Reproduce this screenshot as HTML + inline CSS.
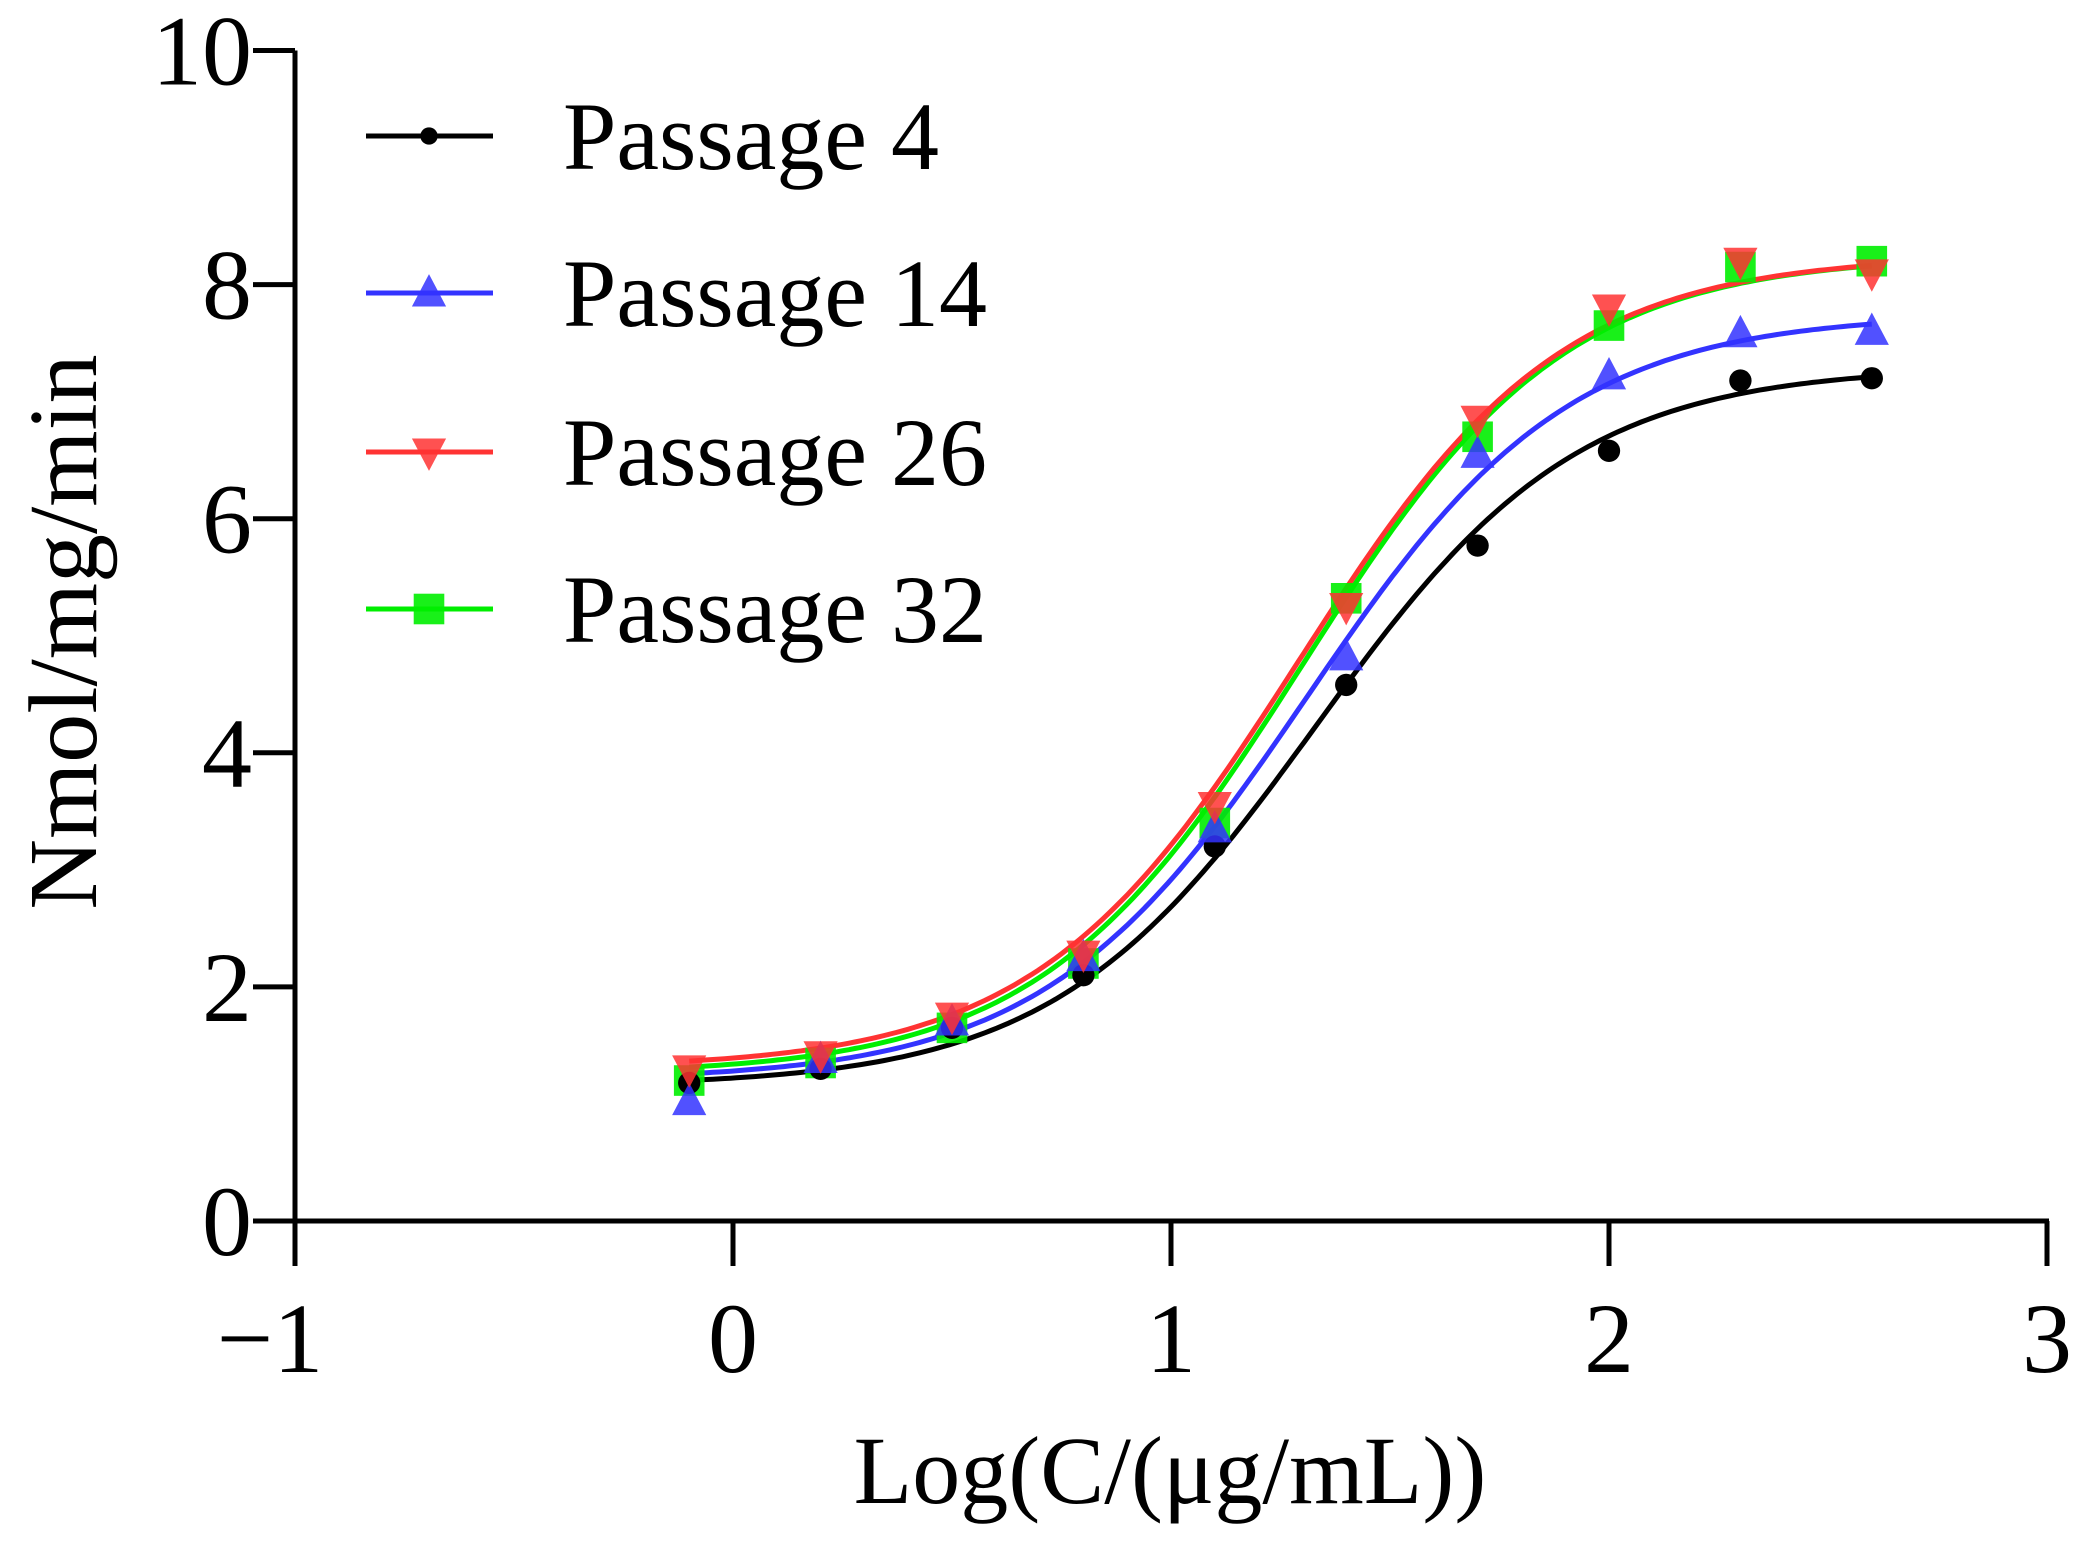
<!DOCTYPE html>
<html><head><meta charset="utf-8"><style>
html,body{margin:0;padding:0;background:#fff;}
svg{display:block;font-family:"Liberation Serif",serif;}
</style></head><body>
<svg id="chart" width="2085" height="1542" viewBox="0 0 2085 1542" xmlns="http://www.w3.org/2000/svg">
<g id="axes"></g>
<g id="curves"></g>
<g id="marks"></g>
<g id="legend"></g>
<text x="1170" y="1503" font-size="96" text-anchor="middle">Log(C/(μg/mL))</text>
<text transform="translate(96,632) rotate(-90)" font-size="98" text-anchor="middle">Nmol/mg/min</text>
</svg>
<script>
const xValues = [-0.1, 0.2, 0.5, 0.8, 1.1, 1.4, 1.7, 2.0, 2.3, 2.6];
const p4 = [1.18, 1.3, 1.65, 2.1, 3.2, 4.58, 5.77, 6.58, 7.18, 7.2];
const p14 = [1.02, 1.38, 1.7, 2.25, 3.35, 4.82, 6.55, 7.22, 7.58, 7.6];
const p26 = [1.3, 1.42, 1.75, 2.28, 3.55, 5.25, 6.85, 7.8, 8.2, 8.1];
const p32 = [1.2, 1.35, 1.65, 2.2, 3.4, 5.32, 6.7, 7.65, 8.15, 8.2];
const seriesNames = ["Passage 4", "Passage 14", "Passage 26", "Passage 32"];
// 4PL fit params: bottom, top, logEC50, hill
const fitBottom = [1.15, 1.2, 1.3, 1.25];
const fitTop = [7.3, 7.75, 8.25, 8.25];
const fitEC50 = [1.33, 1.31, 1.29, 1.3];
const fitHill = [1.45, 1.45, 1.45, 1.45];
const xTicks = [-1, 0, 1, 2, 3];
const xTickLabels = ["\u22121", "0", "1", "2", "3"];
const yTicks = [0, 2, 4, 6, 8, 10];

const NS = "http://www.w3.org/2000/svg";
const X0 = 295, XU = 438, Y0 = 1221, YU = 117.05;
const sx = v => X0 + (v + 1) * XU;
const sy = v => Y0 - v * YU;
const colors = ["#000000", "#3333ff", "#ff3333", "#00ee00"];
const data = [p4, p14, p26, p32];
const shapes = ["circle", "up", "down", "square"];
function mk(tag, attrs, parent) {
  const e = document.createElementNS(NS, tag);
  for (const k in attrs) e.setAttribute(k, attrs[k]);
  parent.appendChild(e);
  return e;
}
const axes = document.getElementById("axes");
let a = mk("line", {x1: sx(-1), y1: sy(10), x2: sx(-1), y2: sy(0) + 2.5, stroke: "#000", "stroke-width": 5}, axes);


a = mk("line", {x1: sx(-1) - 42, y1: sy(0), x2: sx(3) + 2, y2: sy(0), stroke: "#000", "stroke-width": 5}, axes);


yTicks.forEach(t => {
  const l = mk("line", {x1: sx(-1) - 42, y1: sy(t), x2: sx(-1), y2: sy(t), stroke: "#000", "stroke-width": 5}, axes);
  
  
  const tx = mk("text", {x: 252, y: sy(t) + 34, "font-size": 100, "text-anchor": "end"}, axes);
  tx.textContent = String(t);
  
  
});
xTicks.forEach((t, i) => {
  const l = mk("line", {x1: sx(t), y1: sy(0), x2: sx(t), y2: sy(0) + 45, stroke: "#000", "stroke-width": 5}, axes);
  
  
  const tx = mk("text", {x: sx(t) + (t < 0 ? -25 : 0), y: 1372, "font-size": 100, "text-anchor": "middle"}, axes);
  tx.textContent = xTickLabels[i];
  
  
});
function marker(shape, cx, cy, color, parent, s) {
  let e;
  if (shape === "circle") e = mk("circle", {cx, cy, r: s * 0.62, fill: color}, parent);
  else if (shape === "up") e = mk("polygon", {points: `${cx},${cy - s * 1.05} ${cx - s * 0.95},${cy + s * 0.75} ${cx + s * 0.95},${cy + s * 0.75}`, fill: color, opacity: 0.85}, parent);
  else if (shape === "down") e = mk("polygon", {points: `${cx},${cy + s * 1.05} ${cx - s * 0.95},${cy - s * 0.75} ${cx + s * 0.95},${cy - s * 0.75}`, fill: color, opacity: 0.85}, parent);
  else e = mk("rect", {x: cx - s * 0.85, y: cy - s * 0.85, width: s * 1.7, height: s * 1.7, fill: color, opacity: 0.9}, parent);
  return e;
}
const curves = document.getElementById("curves");
const marks = document.getElementById("marks");
const order = [3, 0, 1, 2];
order.forEach(i => {
  let d = "";
  for (let k = 0; k <= 200; k++) {
    const x = xValues[0] + (xValues[xValues.length - 1] - xValues[0]) * k / 200;
    const y = fitBottom[i] + (fitTop[i] - fitBottom[i]) / (1 + Math.pow(10, (fitEC50[i] - x) * fitHill[i]));
    d += (k ? "L" : "M") + sx(x).toFixed(1) + "," + sy(y).toFixed(1);
  }
  const p = mk("path", {d, fill: "none", stroke: colors[i], "stroke-width": 5}, curves);
  
  
});
order.forEach(i => {
  xValues.forEach((x, j) => {
    const m = marker(shapes[i], sx(x), sy(data[i][j]), colors[i], marks, 18);
    
    
  });
});
const legend = document.getElementById("legend");
const legY = [136, 293, 452, 609];
seriesNames.forEach((n, i) => {
  const g = mk("g", {}, legend);
  
  
  mk("line", {x1: 366, y1: legY[i], x2: 493, y2: legY[i], stroke: colors[i], "stroke-width": 5}, g);
  marker(shapes[i], 429, legY[i], colors[i], g, shapes[i] === "circle" ? 14 : 18);
  const t = mk("text", {x: 563, y: legY[i] + 33, "font-size": 96}, g);
  t.textContent = n;
});
</script>
</body></html>
